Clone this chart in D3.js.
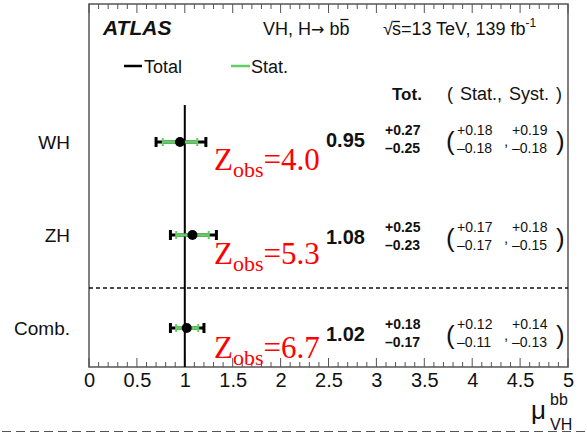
<!DOCTYPE html>
<html>
<head>
<meta charset="utf-8">
<script src="https://cdn.jsdelivr.net/npm/d3@7"></script>
<style>
  html, body { margin: 0; padding: 0; background: #fff; }
  svg { display: block; }
  text { font-family: "Liberation Sans", Arial, Helvetica, sans-serif; }
  .serif { font-family: "Liberation Serif", "Times New Roman", serif; }
</style>
</head>
<body>
<svg id="chart" width="587" height="433"></svg>
<script>
// Signal strength measurements, VH(bb) channels
const categories = ["WH", "ZH", "Comb."];
const mu        = [0.95, 1.08, 1.02];
const totUp     = [0.27, 0.25, 0.18];
const totDn     = [0.25, 0.23, 0.17];
const statUp    = [0.18, 0.17, 0.12];
const statDn    = [0.18, 0.17, 0.11];
const systUp    = [0.19, 0.18, 0.14];
const systDn    = [0.18, 0.15, 0.13];
const zObs      = ["4.0", "5.3", "6.7"];
const xTicks    = [0, 0.5, 1, 1.5, 2, 2.5, 3, 3.5, 4, 4.5, 5];
const xTickLabels = ["0", "0.5", "1", "1.5", "2", "2.5", "3", "3.5", "4", "4.5", "5"];

const svg = d3.select("#chart");
const frame = { left: 89, right: 568, top: 4, bottom: 367 };
const GREEN = "#5fcf5f";
const FRAME = "#555";

const x = d3.scaleLinear().domain([0, 5]).range([frame.left, frame.right]);
// row positions for the markers and for the numeric annotations
const yMark = d3.scaleLinear().domain([0, 2]).range([142, 328]);
const yText = d3.scaleLinear().domain([0, 2]).range([144, 338]);
const yZ    = d3.scaleLinear().domain([0, 2]).range([170, 358]);

const fmt = d3.format(".2f");
const rows = d3.range(categories.length);

// frame
svg.append("rect")
  .attr("x", frame.left).attr("y", frame.top)
  .attr("width", frame.right - frame.left).attr("height", frame.bottom - frame.top)
  .attr("fill", "none").attr("stroke", FRAME).attr("stroke-width", 1.5);

// inward ticks on top and bottom axes
const minor = d3.range(0, 5.0001, 0.1).map(v => +v.toFixed(2));
const tickLen = v => (Math.abs(v * 2 - Math.round(v * 2)) < 1e-6 ? 9 : 5);
svg.append("g").selectAll("line.tb").data(minor).join("line")
  .attr("x1", d => x(d)).attr("x2", d => x(d))
  .attr("y1", frame.bottom).attr("y2", d => frame.bottom - tickLen(d))
  .attr("stroke", FRAME).attr("stroke-width", 1);
svg.append("g").selectAll("line.tt").data(minor).join("line")
  .attr("x1", d => x(d)).attr("x2", d => x(d))
  .attr("y1", frame.top).attr("y2", d => frame.top + tickLen(d))
  .attr("stroke", FRAME).attr("stroke-width", 1);

// bottom axis labels
const axis = d3.axisBottom(x).tickValues(xTicks)
  .tickFormat((d, i) => xTickLabels[i]).tickSize(0).tickPadding(0);
const gAxis = svg.append("g").attr("transform", `translate(0,${frame.bottom})`).call(axis);
gAxis.select(".domain").remove();
gAxis.selectAll("text")
  .attr("dy", null).attr("y", 20)
  .attr("font-size", 20).attr("fill", "#111")
  .style("font-family", '"Liberation Sans", Arial, sans-serif');

// axis title mu^{bb}_{VH}
const at = svg.append("g");
at.append("text").attr("x", 531).attr("y", 419).attr("font-size", 26).attr("fill", "#111").text("μ");
at.append("text").attr("x", 550).attr("y", 405).attr("font-size", 16).attr("fill", "#111").text("bb");
at.append("text").attr("x", 550).attr("y", 430).attr("font-size", 16).attr("fill", "#111").text("VH");

// dashed separator before combined result
svg.append("line")
  .attr("x1", frame.left).attr("x2", frame.right)
  .attr("y1", 288).attr("y2", 288)
  .attr("stroke", "#111").attr("stroke-width", 1.3).attr("stroke-dasharray", "4,3");

// bottom dashed rule
svg.append("line")
  .attr("x1", 2).attr("x2", 587).attr("y1", 431.5).attr("y2", 431.5)
  .attr("stroke", "#555").attr("stroke-width", 1.2).attr("stroke-dasharray", "9,5");

// SM reference line at mu = 1
svg.append("line")
  .attr("x1", x(1)).attr("x2", x(1)).attr("y1", 105).attr("y2", frame.bottom)
  .attr("stroke", "#000").attr("stroke-width", 2);

// category labels
svg.append("g").selectAll("text").data(rows).join("text")
  .attr("x", 70).attr("y", i => yMark(i) + 6.5)
  .attr("text-anchor", "end").attr("font-size", 19).attr("fill", "#111")
  .text(i => categories[i]);

// error bars
const gBars = svg.append("g");
rows.forEach(i => {
  const y = yMark(i);
  const lo = mu[i] - totDn[i], hi = mu[i] + totUp[i];
  const slo = mu[i] - statDn[i], shi = mu[i] + statUp[i];
  gBars.append("line").attr("x1", x(lo)).attr("x2", x(hi)).attr("y1", y).attr("y2", y)
    .attr("stroke", "#000").attr("stroke-width", 3);
  [lo, hi].forEach(v => gBars.append("line")
    .attr("x1", x(v)).attr("x2", x(v)).attr("y1", y - 5).attr("y2", y + 5)
    .attr("stroke", "#000").attr("stroke-width", 3));
  gBars.append("line").attr("x1", x(slo)).attr("x2", x(shi)).attr("y1", y).attr("y2", y)
    .attr("stroke", GREEN).attr("stroke-width", 3);
  [slo, shi].forEach(v => gBars.append("line")
    .attr("x1", x(v)).attr("x2", x(v)).attr("y1", y - 4).attr("y2", y + 4)
    .attr("stroke", GREEN).attr("stroke-width", 2));
  gBars.append("circle").attr("cx", x(mu[i])).attr("cy", y).attr("r", 5).attr("fill", "#000");
});

// significance annotations
rows.forEach(i => {
  const t = svg.append("text").attr("class", "serif")
    .attr("x", 214).attr("y", yZ(i)).attr("fill", "#ff0000").attr("font-size", 31);
  t.append("tspan").text("Z");
  t.append("tspan").attr("font-size", 22).attr("dy", 7).text("obs");
  t.append("tspan").attr("dy", -7).text("=" + zObs[i]);
});

// numeric columns
svg.append("text").attr("x", 392).attr("y", 100).attr("font-size", 17)
  .attr("font-weight", "bold").attr("fill", "#111").text("Tot.");
svg.append("text").attr("x", 447).attr("y", 100).attr("font-size", 18)
  .attr("word-spacing", 2).attr("fill", "#111").attr("xml:space", "preserve")
  .text("( Stat., Syst. )");

rows.forEach(i => {
  const yc = yText(i);
  svg.append("text").attr("x", 326).attr("y", yc + 3).attr("font-size", 20)
    .attr("font-weight", "bold").attr("fill", "#111").text(fmt(mu[i]));
  svg.append("text").attr("x", 385).attr("y", yc - 9).attr("font-size", 14)
    .attr("font-weight", "bold").attr("fill", "#111").text("+" + fmt(totUp[i]));
  svg.append("text").attr("x", 385).attr("y", yc + 9).attr("font-size", 14)
    .attr("font-weight", "bold").attr("fill", "#111").text("\u2013" + fmt(totDn[i]));
  svg.append("text").attr("x", 446).attr("y", yc + 6).attr("font-size", 26)
    .attr("fill", "#111").text("(");
  svg.append("text").attr("x", 457).attr("y", yc - 9).attr("font-size", 14)
    .attr("fill", "#111").text("+" + fmt(statUp[i]));
  svg.append("text").attr("x", 457).attr("y", yc + 9).attr("font-size", 14)
    .attr("fill", "#111").text("\u2013" + fmt(statDn[i]));
  svg.append("text").attr("x", 504).attr("y", yc + 2).attr("font-size", 15)
    .attr("fill", "#111").text(",");
  svg.append("text").attr("x", 512).attr("y", yc - 9).attr("font-size", 14)
    .attr("fill", "#111").text("+" + fmt(systUp[i]));
  svg.append("text").attr("x", 512).attr("y", yc + 9).attr("font-size", 14)
    .attr("fill", "#111").text("\u2013" + fmt(systDn[i]));
  svg.append("text").attr("x", 556).attr("y", yc + 6).attr("font-size", 26)
    .attr("fill", "#111").text(")");
});

// header: experiment label and process/energy
svg.append("text").attr("x", 103).attr("y", 35).attr("font-size", 21)
  .attr("font-weight", "bold").attr("font-style", "italic").attr("fill", "#111").text("ATLAS");

function overline(textSel, yTop) {
  const b = textSel.node().getBBox();
  svg.append("line").attr("x1", b.x + 1).attr("x2", b.x + b.width - 1)
    .attr("y1", yTop).attr("y2", yTop).attr("stroke", "#111").attr("stroke-width", 1.3);
}
const h1 = svg.append("text").attr("x", 263).attr("y", 35).attr("font-size", 18)
  .attr("fill", "#111");
h1.append("tspan").text("VH, H");
h1.append("tspan").style("font-family", '"DejaVu Sans", sans-serif').attr("font-size", 16).text("\u2192");
h1.append("tspan").text(" b");
const h1w = h1.node().getComputedTextLength();
const bbar = svg.append("text").attr("x", 263 + h1w).attr("y", 35).attr("font-size", 18)
  .attr("fill", "#111").text("b");
overline(bbar, 19.5);

const root = svg.append("text").attr("x", 383).attr("y", 35).attr("font-size", 18)
  .attr("fill", "#111").text("\u221A");
const rw = root.node().getComputedTextLength();
const sChar = svg.append("text").attr("x", 383 + rw - 1).attr("y", 35).attr("font-size", 18)
  .attr("fill", "#111").text("s");
overline(sChar, 21.5);
const sw = sChar.node().getComputedTextLength();
const rest = svg.append("text").attr("x", 383 + rw - 1 + sw).attr("y", 35).attr("font-size", 18)
  .attr("fill", "#111");
rest.append("tspan").text("=13 TeV, 139 fb");
rest.append("tspan").attr("font-size", 12).attr("dy", -8).text("-1");

// legend
svg.append("line").attr("x1", 124).attr("x2", 142).attr("y1", 66).attr("y2", 66)
  .attr("stroke", "#000").attr("stroke-width", 2.5);
svg.append("text").attr("x", 144).attr("y", 73).attr("font-size", 18).attr("fill", "#111").text("Total");
svg.append("line").attr("x1", 231).attr("x2", 250).attr("y1", 66).attr("y2", 66)
  .attr("stroke", GREEN).attr("stroke-width", 2.5);
svg.append("text").attr("x", 251).attr("y", 73).attr("font-size", 18).attr("fill", "#111").text("Stat.");
</script>
</body>
</html>
